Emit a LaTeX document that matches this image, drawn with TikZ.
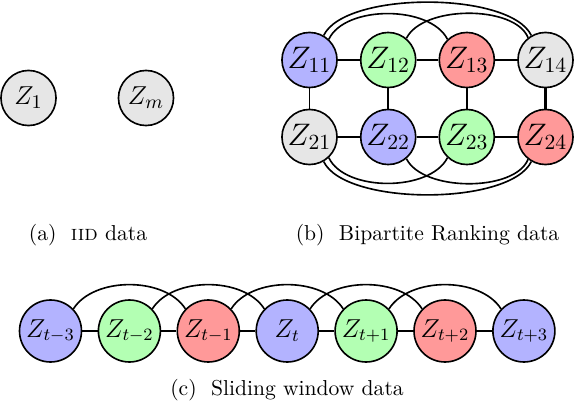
\documentclass[tikz,border=0pt]{standalone}
\usepackage{amsmath}
\definecolor{nblue}{RGB}{179,179,255}
\definecolor{ngreen}{RGB}{179,255,179}
\definecolor{nred}{RGB}{255,153,153}
\definecolor{ngray}{RGB}{230,230,230}
\begin{document}
\begin{tikzpicture}[x=0.463pt,y=-0.463pt,
  anode/.style={circle,draw=black,line width=0.75pt,inner sep=0pt,minimum size=25.5pt,font=\fontsize{13}{15}\selectfont},
  vnode/.style={circle,draw=black,line width=0.75pt,inner sep=0pt,minimum size=25.5pt,font=\fontsize{14.4}{16}\selectfont},
  wnode/.style={circle,draw=black,line width=0.75pt,inner sep=0pt,minimum size=28.7pt,font=\large},
  edge/.style={line width=0.75pt},
  hedge/.style={line width=1.1pt},
  captext/.style={font=\normalsize}]
\useasboundingbox (0,0) rectangle (574,402);
% (a)
\node[anode,fill=ngray] (z1) at (28.5,98) {$Z_1$};
\node[anode,fill=ngray] (zm) at (146,98) {$Z_m$};
\node[captext] (capa) at (88,235) {(a)~~\textsc{iid} data};
% (b)
\node[vnode,fill=nblue]  (z11) at (309.5,60) {$Z_{11}$};
\node[vnode,fill=ngreen] (z12) at (388.2,60) {$Z_{12}$};
\node[vnode,fill=nred]   (z13) at (466.8,60) {$Z_{13}$};
\node[vnode,fill=ngray]  (z14) at (545.5,60) {$Z_{14}$};
\node[vnode,fill=ngray]  (z21) at (309.5,137) {$Z_{21}$};
\node[vnode,fill=nblue]  (z22) at (388.2,137) {$Z_{22}$};
\node[vnode,fill=ngreen] (z23) at (466.8,137) {$Z_{23}$};
\node[vnode,fill=nred]   (z24) at (545.5,137) {$Z_{24}$};
\draw[edge] (z11) -- (z12);
\draw[edge] (z12) -- (z13);
\draw[edge] (z13) -- (z14);
\draw[hedge] (z21) -- (z22);
\draw[hedge] (z22) -- (z23);
\draw[hedge] (z23) -- (z24);
\draw[edge] (z11) -- (z21);
\draw[edge] (z12) -- (z22);
\draw[edge] (z13) -- (z23);
\draw[hedge] (z14) -- (z24);
\draw[edge] (z11.60) .. controls (345,-9) and (510,-9) .. (z14.120);
\draw[edge] (z11.47) .. controls (345,5) and (430,5) .. (z13.133);
\draw[edge] (z12.50) .. controls (423,5) and (515,5) .. (z14.128);
\draw[edge] (z21.-60) .. controls (345,206) and (510,206) .. (z24.-120);
\draw[edge] (z21.-47) .. controls (345,192) and (430,192) .. (z23.-133);
\draw[edge] (z22.-50) .. controls (423,192) and (515,192) .. (z24.-128);
\node[captext] (capb) at (427.5,235) {(b)~~Bipartite Ranking data};
% (c)
\node[wnode,fill=nblue]  (c1) at (50.5,331) {$Z_{t-3}$};
\node[wnode,fill=ngreen] (c2) at (129.4,331) {$Z_{t-2}$};
\node[wnode,fill=nred]   (c3) at (208.3,331) {$Z_{t-1}$};
\node[wnode,fill=nblue]  (c4) at (287.2,331) {$Z_{t}$};
\node[wnode,fill=ngreen] (c5) at (366.1,331) {$Z_{t+1}$};
\node[wnode,fill=nred]   (c6) at (445,331) {$Z_{t+2}$};
\node[wnode,fill=nblue]  (c7) at (523.9,331) {$Z_{t+3}$};
\foreach \a/\b in {c1/c2,c2/c3,c3/c4,c4/c5,c5/c6,c6/c7}
  \draw[hedge] (\a) -- (\b);
\foreach \a/\b in {c1/c3,c2/c4,c3/c5,c4/c6,c5/c7}
  \draw[edge] (\a.44) .. controls ([xshift=9.5pt,yshift=15pt]\a.44) and ([xshift=-9.5pt,yshift=15pt]\b.136) .. (\b.136);
\node[captext] (capc) at (287,390) {(c)~~Sliding window data};
\end{tikzpicture}
\end{document}
